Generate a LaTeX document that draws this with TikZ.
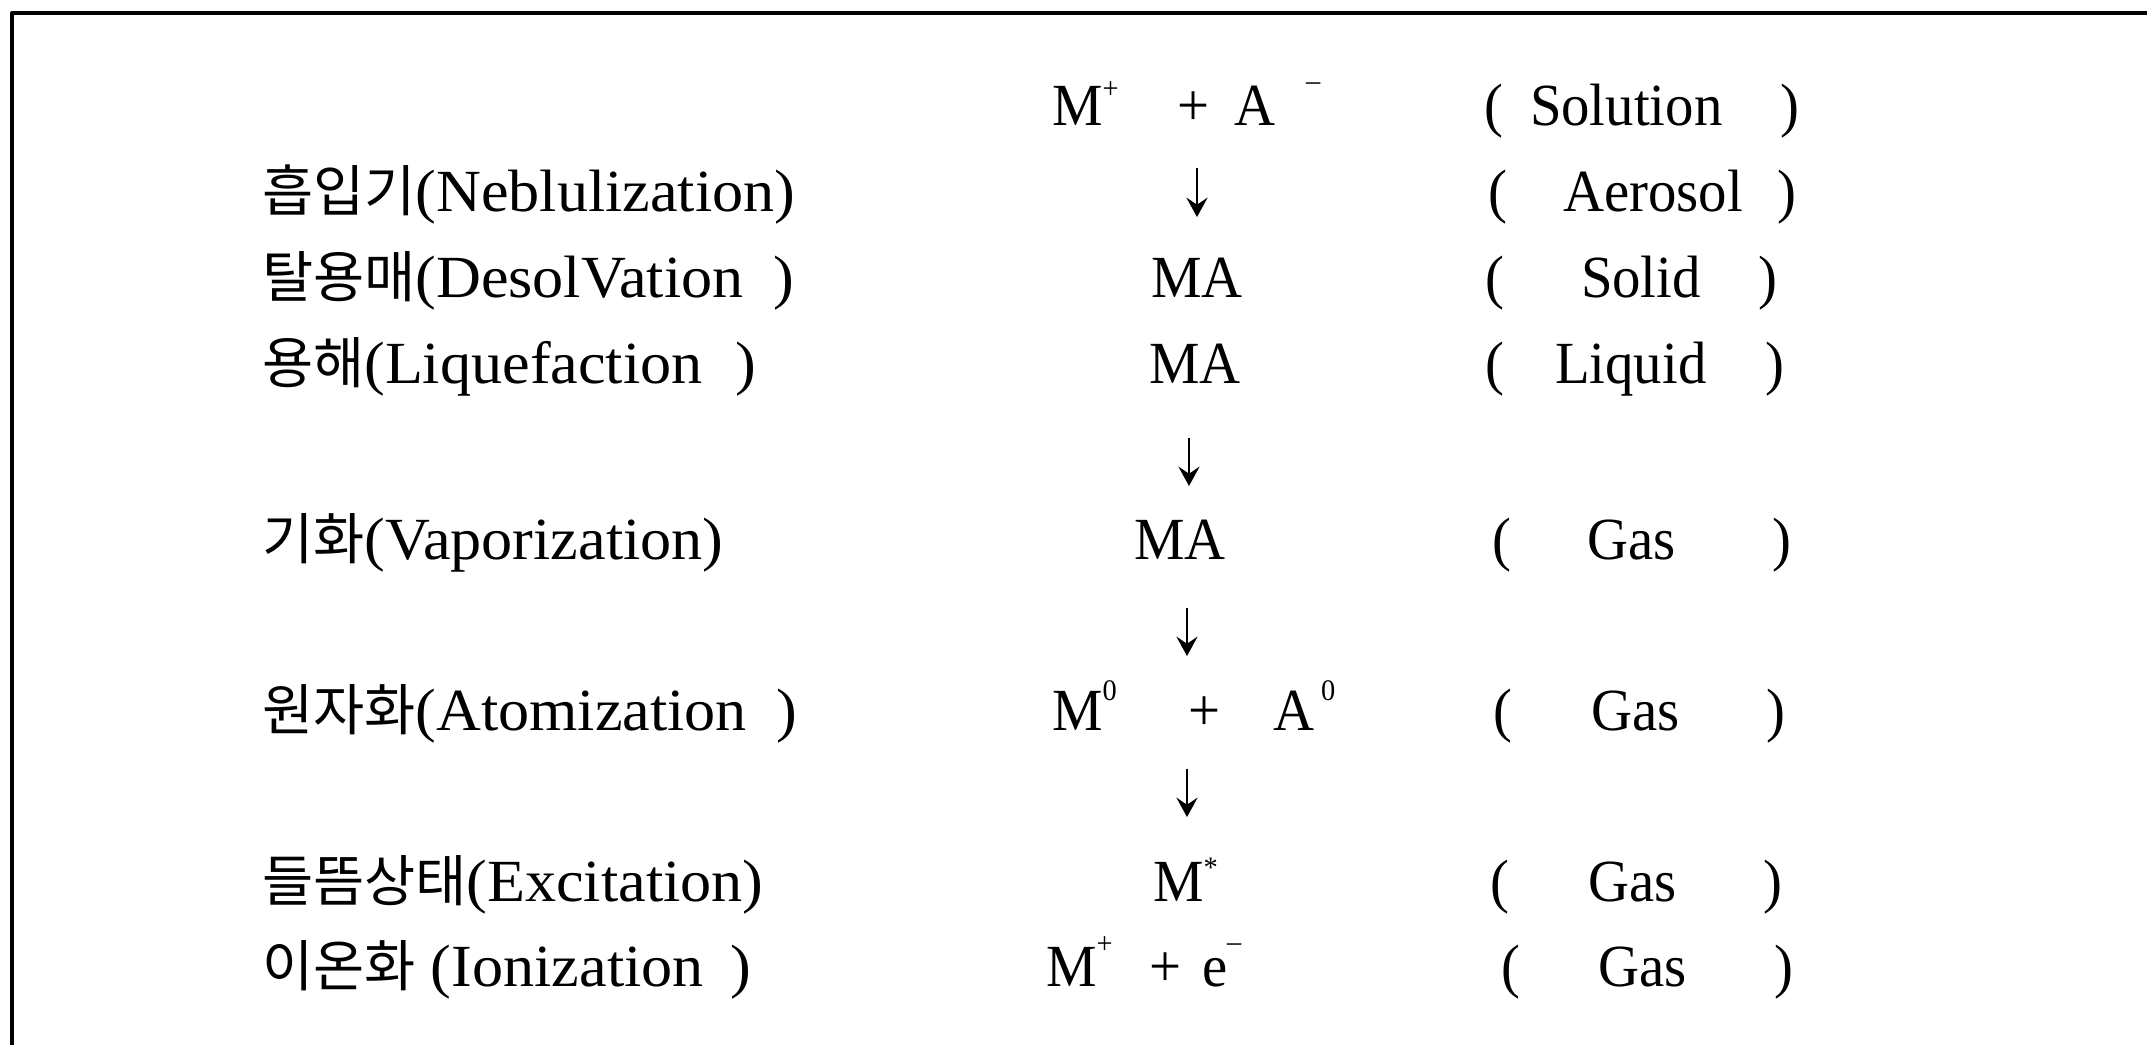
\documentclass[tikz,border=0pt]{standalone}
\usepackage{fontspec}
\setmainfont{Liberation Serif}[FakeStretch=0.95]
\newfontfamily\lblfont{Liberation Serif}[FakeStretch=1.04]
\newfontfamily\kofont{Noto Sans CJK KR}[Scale=0.93]
\usetikzlibrary{arrows.meta}
% small raised sign after a symbol: optional raise, then the sign
\newcommand\supsym[2][0.45em]{\raisebox{#1}{\fontsize{8.5}{8.5}\selectfont #2}}
\begin{document}
\begin{tikzpicture}[x=0.01cm,y=-0.01cm,
  txt/.style={anchor=base west,inner sep=0pt,outer sep=0pt,font=\fontsize{17}{20}\selectfont},
  lbl/.style={txt,font=\fontsize{17}{20}\selectfont\lblfont},
  frame/.style={line width=0.04cm,line join=round,line cap=rect},
  flowarrow/.style={line width=0.7pt,-{Stealth[length=5.5pt,width=6pt,inset=2pt]}}]
\useasboundingbox (0,0) rectangle (2147,1044);

% open frame: top and left edges
\coordinate (frTR) at (2147,13);
\coordinate (frTL) at (12,13);
\coordinate (frBL) at (12,1044);
\draw[frame] (frTR) -- (frTL) -- (frBL);

% row 1: solution
\node[txt] (s1m) at (1052,125) {M\supsym{+}};
\node[txt] (s1p) at (1177,125) {+};
\node[txt] (s1a) at (1234,125) {A};
\node[txt] (s1n) at (1306,125) {\supsym[0.58em]{–}};
\node[txt] (p1l) at (1484,125) {(};
\node[txt] (p1w) at (1530,125) {Solution};
\node[txt] (p1r) at (1780,125) {)};

% row 2: nebulization
\node[lbl] (l2) at (262,211) {{\kofont 흡입기}(Neblulization)};
\coordinate (a1s) at (1197,168);
\coordinate (a1e) at (1197,217);
\draw[flowarrow] (a1s) -- (a1e);
\node[txt] (p2l) at (1488,211) {(};
\node[txt] (p2w) at (1563,211) {Aerosol};
\node[txt] (p2r) at (1777,211) {)};

% row 3: desolvation
\node[lbl] (l3) at (262,297) {{\kofont 탈용매}(DesolVation\hspace{0.5em})};
\node[txt] (s3) at (1151,297) {MA};
\node[txt] (p3l) at (1485,297) {(};
\node[txt] (p3w) at (1581,297) {Solid};
\node[txt] (p3r) at (1758,297) {)};

% row 4: liquefaction
\node[lbl] (l4) at (262,383) {{\kofont 용해}(Liquefaction\hspace{0.55em})};
\node[txt] (s4) at (1149,383) {MA};
\node[txt] (p4l) at (1485,383) {(};
\node[txt] (p4w) at (1555,383) {Liquid};
\node[txt] (p4r) at (1765,383) {)};

\coordinate (a2s) at (1189,438);
\coordinate (a2e) at (1189,486);
\draw[flowarrow] (a2s) -- (a2e);

% row 5: vaporization
\node[lbl] (l5) at (262,559) {{\kofont 기화}(Vaporization)};
\node[txt] (s5) at (1134,559) {MA};
\node[txt] (p5l) at (1492,559) {(};
\node[txt] (p5w) at (1587,559) {Gas};
\node[txt] (p5r) at (1772,559) {)};

\coordinate (a3s) at (1187,608);
\coordinate (a3e) at (1187,656);
\draw[flowarrow] (a3s) -- (a3e);

% row 6: atomization
\node[lbl] (l6) at (262,730) {{\kofont 원자화}(Atomization\hspace{0.5em})};
\node[txt] (s6m) at (1052,730) {M\supsym[0.5em]{0}};
\node[txt] (s6p) at (1188,730) {+};
\node[txt] (s6a) at (1273,730) {A\hspace{0.12em}\supsym[0.5em]{0}};
\node[txt] (p6l) at (1493,730) {(};
\node[txt] (p6w) at (1591,730) {Gas};
\node[txt] (p6r) at (1766,730) {)};

\coordinate (a4s) at (1187,769);
\coordinate (a4e) at (1187,817);
\draw[flowarrow] (a4s) -- (a4e);

% row 7: excitation
\node[lbl] (l7) at (262,901) {{\kofont 들뜸상태}(Excitation)};
\node[txt] (s7) at (1153,901) {M\supsym[0.4em]{*}};
\node[txt] (p7l) at (1490,901) {(};
\node[txt] (p7w) at (1588,901) {Gas};
\node[txt] (p7r) at (1763,901) {)};

% row 8: ionization
\node[lbl] (l8) at (262,986) {{\kofont 이온화} (Ionization\hspace{0.45em})};
\node[txt] (s8m) at (1046,986) {M\supsym[0.55em]{+}};
\node[txt] (s8p) at (1149,986) {+};
\node[txt] (s8e) at (1202,986) {e\supsym[0.58em]{–}};
\node[txt] (p8l) at (1501,986) {(};
\node[txt] (p8w) at (1598,986) {Gas};
\node[txt] (p8r) at (1774,986) {)};
\end{tikzpicture}
\end{document}
